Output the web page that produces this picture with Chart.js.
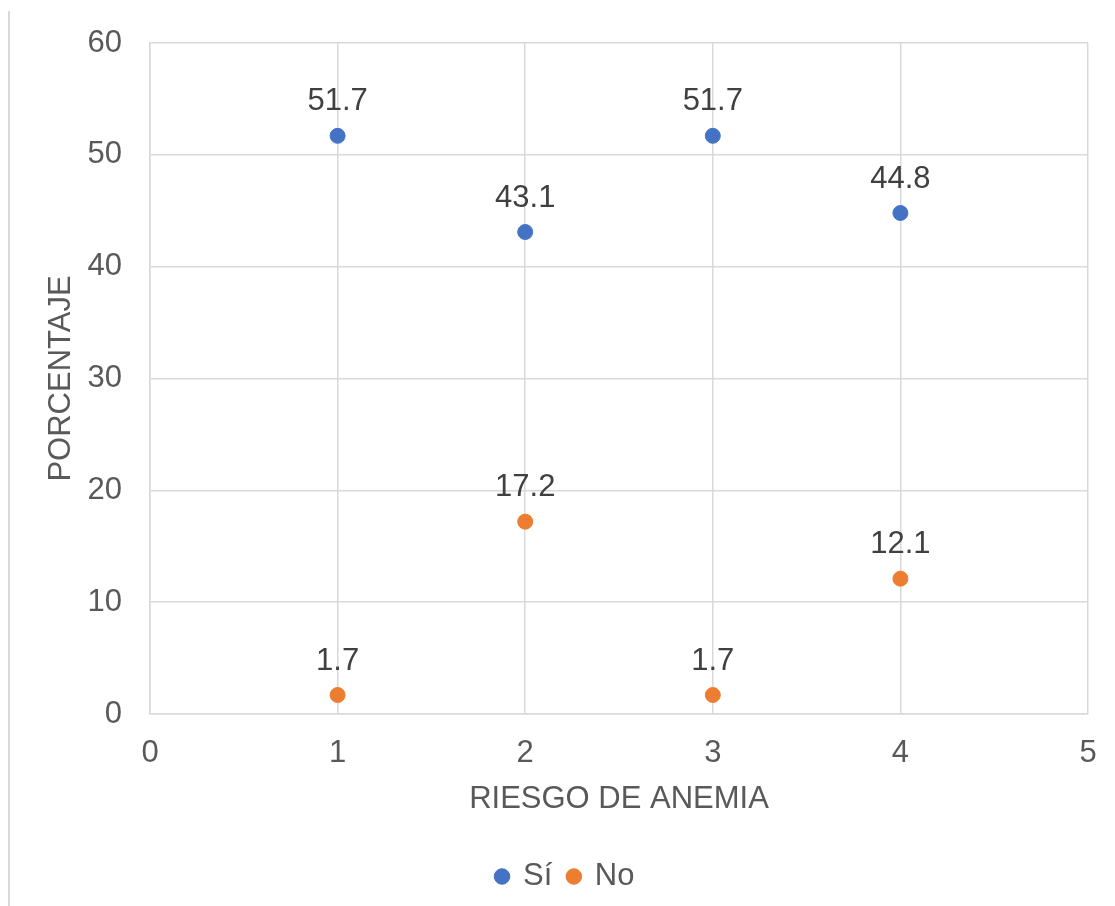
<!DOCTYPE html>
<html>
<head>
<meta charset="utf-8">
<script src="https://cdn.jsdelivr.net/npm/chart.js@4.4.0/dist/chart.umd.min.js"></script>
<style>
  html, body { margin: 0; padding: 0; background: #fff; }
  #wrap { width: 1115px; height: 906px; position: relative; }
</style>
</head>
<body>
<div id="wrap"><canvas id="grafico"></canvas></div>
<script>
// Datos del gráfico
const riesgo = [1, 2, 3, 4];
const valoresSi = [51.7, 43.1, 51.7, 44.8];
const valoresNo = [1.7, 17.2, 1.7, 12.1];
const nombresSeries = ["Sí", "No"];
const tituloX = "RIESGO DE ANEMIA";
const tituloY = "PORCENTAJE";

const fuente = "'Liberation Sans', Arial, sans-serif";

// Etiquetas de datos sobre cada punto
const etiquetasPlugin = {
  id: "etiquetas",
  afterDatasetsDraw(chart) {
    const ctx = chart.ctx;
    ctx.save();
    ctx.font = "31px " + fuente;
    ctx.fillStyle = "#404040";
    ctx.textAlign = "center";
    ctx.textBaseline = "middle";
    chart.data.datasets.forEach((ds, i) => {
      const meta = chart.getDatasetMeta(i);
      meta.data.forEach((pt, j) => {
        ctx.fillText(ds.data[j].y.toFixed(1), pt.x, pt.y - 34);
      });
    });
    ctx.restore();
  }
};

// Línea gris a la izquierda (borde del recuadro original)
const bordePlugin = {
  id: "borde",
  beforeDraw(chart) {
    const ctx = chart.ctx;
    ctx.save();
    ctx.strokeStyle = "#d9d9d9";
    ctx.lineWidth = 2;
    ctx.beginPath();
    ctx.moveTo(9, 11);
    ctx.lineTo(9, 906);
    ctx.stroke();
    ctx.restore();
  }
};

const config = {
  type: "scatter",
  data: {
    datasets: [
      {
        label: nombresSeries[0],
        data: riesgo.map((x, i) => ({ x: x, y: valoresSi[i] })),
        backgroundColor: "#4472C4",
        borderColor: "#4472C4",
        pointRadius: 7.5,
        pointHoverRadius: 7.5
      },
      {
        label: nombresSeries[1],
        data: riesgo.map((x, i) => ({ x: x, y: valoresNo[i] })),
        backgroundColor: "#ED7D31",
        borderColor: "#ED7D31",
        pointRadius: 7.5,
        pointHoverRadius: 7.5
      }
    ]
  },
  options: {
    responsive: true,
    maintainAspectRatio: false,
    animation: false,
    layout: { padding: { left: 43, right: 27, top: 43, bottom: 4 } },
    plugins: {
      legend: {
        position: "bottom",
        labels: {
          usePointStyle: true,
          pointStyle: "circle",
          boxWidth: 11,
          boxHeight: 11,
          padding: 16,
          color: "#595959",
          font: { size: 31, family: fuente }
        }
      },
      tooltip: { enabled: false }
    },
    scales: {
      x: {
        type: "linear",
        min: 0,
        max: 5,
        afterFit(scale) {
          scale.height = 131;
          scale.paddingLeft = 0;
          scale.paddingRight = 0;
        },
        ticks: { stepSize: 1, color: "#595959", padding: 21, font: { size: 31, family: fuente } },
        grid: { color: "#d9d9d9", lineWidth: 1.5, drawTicks: false },
        border: { color: "#d9d9d9", width: 1.5 },
        title: { display: true, text: tituloX, color: "#595959", padding: { top: 0, bottom: 27 }, font: { size: 31, family: fuente } }
      },
      y: {
        min: 0,
        max: 60,
        afterFit(scale) {
          scale.width = 107;
          scale.paddingTop = 0;
          scale.paddingBottom = 0;
        },
        ticks: { stepSize: 10, color: "#595959", padding: 28, font: { size: 31, family: fuente } },
        grid: { color: "#d9d9d9", lineWidth: 1.5, drawTicks: false },
        border: { color: "#d9d9d9", width: 1.5 },
        title: { display: true, text: tituloY, color: "#595959", padding: { top: 0, bottom: 8 }, font: { size: 31, family: fuente } }
      }
    }
  },
  plugins: [etiquetasPlugin, bordePlugin]
};

new Chart(document.getElementById("grafico"), config);
</script>
</body>
</html>
